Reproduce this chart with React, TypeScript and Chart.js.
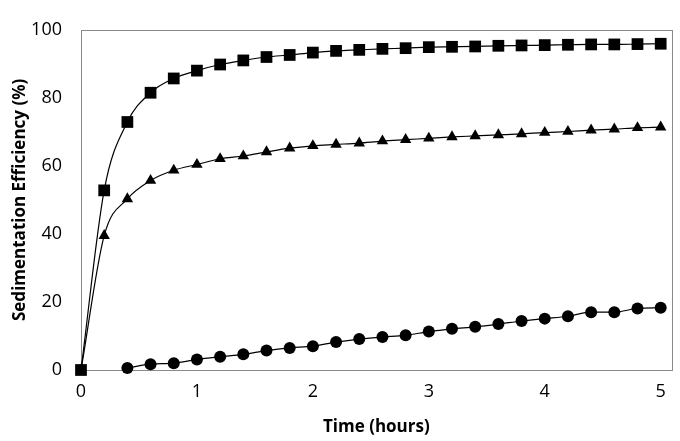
import React, { useEffect, useRef } from "react";
import { Chart, registerables } from "chart.js";

Chart.register(...registerables);

const timesSquare = [0, 0.2, 0.4, 0.6, 0.8, 1.0, 1.2, 1.4, 1.6, 1.8, 2.0, 2.2, 2.4, 2.6, 2.8, 3.0, 3.2, 3.4, 3.6, 3.8, 4.0, 4.2, 4.4, 4.6, 4.8, 5.0];
const squareValues = [0, 52.8, 72.9, 81.5, 85.7, 88.0, 89.8, 91.0, 92.0, 92.6, 93.3, 93.8, 94.1, 94.4, 94.6, 94.9, 95.0, 95.1, 95.3, 95.4, 95.5, 95.6, 95.7, 95.7, 95.8, 95.9];
const timesTriangle = timesSquare;
const triangleValues = [0, 39.5, 50.3, 55.7, 58.7, 60.4, 62.1, 62.9, 64.1, 65.2, 65.9, 66.3, 66.7, 67.3, 67.7, 68.1, 68.5, 68.8, 69.1, 69.4, 69.8, 70.1, 70.5, 70.8, 71.2, 71.4];
const timesCircle = [0.4, 0.6, 0.8, 1.0, 1.2, 1.4, 1.6, 1.8, 2.0, 2.2, 2.4, 2.6, 2.8, 3.0, 3.2, 3.4, 3.6, 3.8, 4.0, 4.2, 4.4, 4.6, 4.8, 5.0];
const circleValues = [0.6, 1.7, 2.0, 3.1, 3.9, 4.6, 5.7, 6.5, 7.0, 8.2, 9.1, 9.7, 10.2, 11.3, 12.1, 12.7, 13.5, 14.4, 15.1, 15.8, 17.0, 17.0, 18.1, 18.3];
const xTicks = [0, 1, 2, 3, 4, 5];
const yTicks = [0, 20, 40, 60, 80, 100];
const xTitle = "Time (hours)";
const yTitle = "Sedimentation Efficiency (%)";

const toPoints = (xs: number[], ys: number[]) => xs.map((x, i) => ({ x, y: ys[i] }));

const frame = {
  id: "frame",
  beforeDatasetsDraw(chart: any) {
    const { ctx, chartArea } = chart;
    ctx.save();
    ctx.strokeStyle = "#8a8a8a";
    ctx.lineWidth = 1;
    ctx.strokeRect(
      Math.round(chartArea.left) + 0.5,
      Math.round(chartArea.top) + 0.5,
      Math.round(chartArea.right - chartArea.left),
      Math.round(chartArea.bottom - chartArea.top)
    );
    ctx.restore();
  },
};

export default function App() {
  const ref = useRef<HTMLCanvasElement | null>(null);
  useEffect(() => {
    document.body.style.margin = "0";
    const font = "'Open Sans', sans-serif";
    const common = {
      borderColor: "#000",
      backgroundColor: "#000",
      pointBorderColor: "#000",
      pointBackgroundColor: "#000",
      borderWidth: 1.2,
      pointBorderWidth: 0,
      cubicInterpolationMode: "monotone" as const,
      clip: false as any,
      showLine: true,
    };
    const chart = new Chart(ref.current!, {
      type: "scatter",
      data: {
        datasets: [
          { ...common, label: "A", data: toPoints(timesSquare, squareValues), pointStyle: "rect", pointRadius: 8.3 },
          { ...common, label: "B", data: toPoints(timesTriangle, triangleValues), pointStyle: "triangle", pointRadius: 6.6 },
          { ...common, label: "C", data: toPoints(timesCircle, circleValues), pointStyle: "circle", pointRadius: 6 },
        ],
      },
      plugins: [frame],
      options: {
        animation: false,
        responsive: false,
        layout: { padding: { top: 11, right: 7, left: 6, bottom: 0 } },
        plugins: { legend: { display: false }, tooltip: { enabled: false } },
        scales: {
          x: {
            type: "linear",
            min: 0,
            max: 5.095,
            afterBuildTicks: (s: any) => {
              s.ticks = xTicks.map((v) => ({ value: v }));
            },
            afterFit: (s: any) => {
              s.height = 71;
            },
            grid: { display: false, drawTicks: false },
            border: { display: false },
            ticks: { color: "#000", font: { family: font, size: 18 }, padding: 11, maxRotation: 0 },
            title: { display: true, text: xTitle, color: "#000", font: { family: font, size: 17, weight: "bold" }, padding: { top: 4 } },
          },
          y: {
            type: "linear",
            min: 0,
            max: 100,
            afterBuildTicks: (s: any) => {
              s.ticks = yTicks.map((v) => ({ value: v }));
            },
            afterFit: (s: any) => {
              s.width = 75;
            },
            grid: { display: false, drawTicks: false },
            border: { display: false },
            ticks: { color: "#000", font: { family: font, size: 18 }, padding: 19 },
            title: { display: true, text: yTitle, color: "#000", font: { family: font, size: 17, weight: "bold" }, padding: { bottom: 0 } },
          },
        },
      },
    });
    return () => chart.destroy();
  }, []);
  return (
    <div style={{ width: 680, height: 441, background: "#fff" }}>
      <canvas ref={ref} width={680} height={441} style={{ display: "block" }} />
    </div>
  );
}
